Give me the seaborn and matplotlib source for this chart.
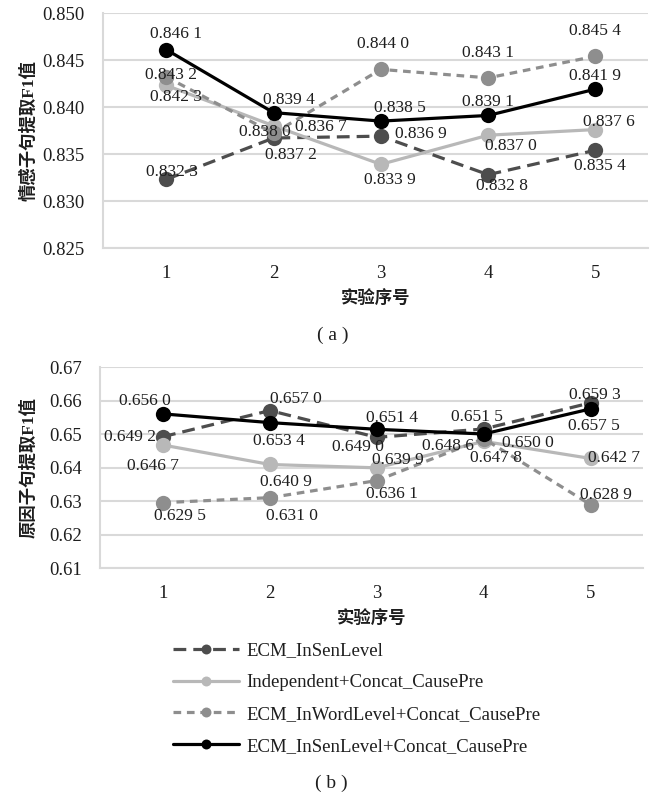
import matplotlib
matplotlib.use("Agg")
import matplotlib.pyplot as plt
import seaborn as sns
import pandas as pd

# Experiment index
runs = [1, 2, 3, 4, 5]

series_names = [
    "ECM_InSenLevel",
    "Independent+Concat_CausePre",
    "ECM_InWordLevel+Concat_CausePre",
    "ECM_InSenLevel+Concat_CausePre",
]

# (a) emotion clause extraction F1
emo_insen = [0.8323, 0.8367, 0.8369, 0.8328, 0.8354]
emo_indep = [0.8423, 0.8380, 0.8339, 0.8370, 0.8376]
emo_inword = [0.8432, 0.8372, 0.8440, 0.8431, 0.8454]
emo_insen_cc = [0.8461, 0.8394, 0.8385, 0.8391, 0.8419]

# (b) cause clause extraction F1
cau_insen = [0.6492, 0.6570, 0.6490, 0.6515, 0.6593]
cau_indep = [0.6467, 0.6409, 0.6399, 0.6478, 0.6427]
cau_inword = [0.6295, 0.6310, 0.6361, 0.6486, 0.6289]
cau_insen_cc = [0.6560, 0.6534, 0.6514, 0.6500, 0.6575]

yticks_a = [0.825, 0.830, 0.835, 0.840, 0.845, 0.850]
yticks_b = [0.61, 0.62, 0.63, 0.64, 0.65, 0.66, 0.67]

ylabel_a = "情感子句提取F1值"
ylabel_b = "原因子句提取F1值"
xlabel = "实验序号"

sns.set_style("white")
plt.rcParams["font.family"] = ["Liberation Serif", "Noto Sans CJK SC", "DejaVu Sans"]

styles = {
    "ECM_InSenLevel": dict(color="#4d4d4d", dashes=(4.0, 2.2)),
    "Independent+Concat_CausePre": dict(color="#b8b8b8", dashes=None),
    "ECM_InWordLevel+Concat_CausePre": dict(color="#8e8e8e", dashes=(2.4, 1.8)),
    "ECM_InSenLevel+Concat_CausePre": dict(color="#000000", dashes=None),
}

# label offsets (pixels) for each point, per panel
offsets_a = {
    "ECM_InSenLevel": [(6, 7), (47, 11), (40, 2), (14, -11), (5, -16)],
    "Independent+Concat_CausePre": [(10, -12), (-9, -6), (9, -16), (23, -11), (13, 8)],
    "ECM_InWordLevel+Concat_CausePre": [(5, 2), (17, -22), (2, 25), (0, 25), (0, 25)],
    "ECM_InSenLevel+Concat_CausePre": [(10, 16), (15, 13), (19, 13), (0, 13), (0, 13)],
}
offsets_b = {
    "ECM_InSenLevel": [(-33, 0), (26, 12), (-19, -10), (-7, 12), (4, 8)],
    "Independent+Concat_CausePre": [(-10, -21), (16, -18), (21, 8), (12, -17), (23, 0)],
    "ECM_InWordLevel+Concat_CausePre": [(17, -13), (22, -18), (15, -13), (-36, -7), (15, 10)],
    "ECM_InSenLevel+Concat_CausePre": [(-18, 13), (9, -18), (15, 11), (44, -9), (3, -17)],
}

df_a = pd.DataFrame({"run": runs * 4,
                     "series": sum([[n] * 5 for n in series_names], []),
                     "f1": emo_insen + emo_indep + emo_inword + emo_insen_cc})
df_b = pd.DataFrame({"run": runs * 4,
                     "series": sum([[n] * 5 for n in series_names], []),
                     "f1": cau_insen + cau_indep + cau_inword + cau_insen_cc})


def fmt(v):
    s = f"{v:.4f}"
    return s[:-1] + " " + s[-1]


fig = plt.figure(figsize=(6.65, 7.99), dpi=100)
ax_a = fig.add_axes([103 / 665, 1 - 248 / 799, (648 - 103) / 665, (248 - 13) / 799])
ax_b = fig.add_axes([100 / 665, 1 - 568 / 799, (643 - 100) / 665, (568 - 367) / 799])

grid_c = "#d9d9d9"
text_c = "#1e1e1e"


def draw(ax, df, offsets, yticks, yfmt, ylabel):
    for name in series_names:
        sub = df[df["series"] == name]
        st = styles[name]
        sns.lineplot(data=sub, x="run", y="f1", ax=ax, color=st["color"],
                     marker="o", markersize=11, markeredgewidth=0,
                     linewidth=2.3, label=name, legend=False)
        line = ax.lines[-1]
        if st["dashes"] is not None:
            line.set_dashes(st["dashes"])
        for (xv, yv), (dx, dy) in zip(zip(sub["run"], sub["f1"]), offsets[name]):
            ax.annotate(fmt(yv), (xv, yv), xytext=(dx, dy), textcoords="offset pixels",
                        ha="center", va="center", fontsize=12.5, color=text_c)
    ax.set_xlim(0.41, 5.49)
    ax.set_ylim(yticks[0], yticks[-1])
    ax.set_yticks(yticks)
    ax.set_yticklabels([yfmt.format(t) for t in yticks])
    ax.set_xticks(runs)
    ax.set_xticklabels([str(r) for r in runs])
    ax.yaxis.grid(True, color=grid_c, linewidth=1.5)
    ax.set_axisbelow(True)
    for sp in ["top", "right"]:
        ax.spines[sp].set_visible(False)
    for sp in ["left", "bottom"]:
        ax.spines[sp].set_color(grid_c)
        ax.spines[sp].set_linewidth(1.5)
    ax.tick_params(axis="y", length=0, labelsize=13.5, pad=13, labelcolor=text_c)
    ax.tick_params(axis="x", direction="in", length=8, width=1.2, color=grid_c,
                   labelsize=13.5, pad=12, labelcolor=text_c)
    ax.set_xlabel(xlabel, fontsize=12.5, fontweight="bold", labelpad=6, color=text_c)
    ax.set_ylabel(ylabel, fontsize=12.5, fontweight="bold", color=text_c)


draw(ax_a, df_a, offsets_a, yticks_a, "{:.3f}", ylabel_a)
draw(ax_b, df_b, offsets_b, yticks_b, "{:.2f}", ylabel_b)

ax_a.yaxis.set_label_coords(-(103 - 37) / 545, 0.5)
ax_b.yaxis.set_label_coords(-(100 - 37) / 543, 0.5)

fig.text(333 / 665, 1 - 335 / 799, "( a )", ha="center", va="center", fontsize=14, color=text_c)
fig.text(331 / 665, 1 - 783 / 799, "( b )", ha="center", va="center", fontsize=14, color=text_c)

handles = ax_b.lines[:4]
fig.legend(handles, series_names, loc="upper left",
           bbox_to_anchor=(173 / 665, 1 - 642 / 799), frameon=False,
           borderpad=0, borderaxespad=0, handlelength=3.5, handletextpad=0.42,
           labelspacing=0.79, markerscale=0.65, fontsize=13.5, labelcolor=text_c)

fig.savefig("out.png", dpi=100)
